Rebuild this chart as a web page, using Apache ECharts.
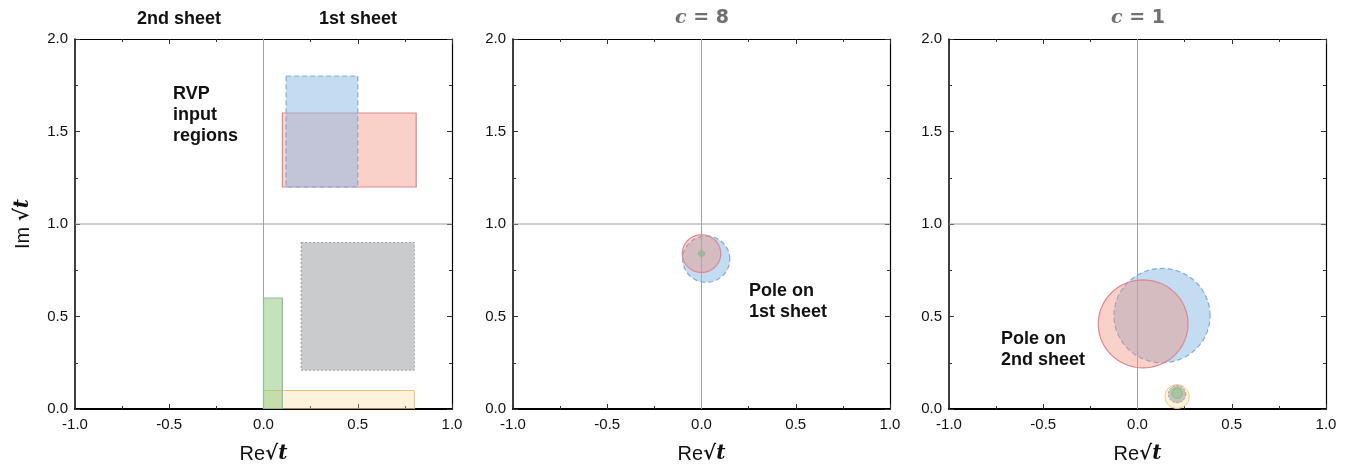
<!DOCTYPE html>
<html>
<head>
<meta charset="utf-8">
<script src="https://cdn.jsdelivr.net/npm/echarts@6/dist/echarts.min.js"></script>
<style>
  html, body { margin: 0; padding: 0; background: #fff; }
  #root { width: 1360px; height: 468px; }
</style>
</head>
<body>
<div id="root"></div>
<script>
// axis ticks
const xTicks = [-1.0, -0.5, 0.0, 0.5, 1.0];
const yTicks = [0.0, 0.5, 1.0, 1.5, 2.0];

// reference lines (Re = 0, Im = 1)
const vLine = [[0, 0], [0, 2]];
const hLine = [[-1, 1], [1, 1]];

// panel 1: input regions [x0, x1, y0, y1]
const orangeRegion = [0.0, 0.8, 0.0, 0.1];
const greenRegion = [0.0, 0.1, 0.0, 0.6];
const grayRegion = [0.2, 0.8, 0.21, 0.9];
const redRegion = [0.1, 0.81, 1.2, 1.6];
const blueRegion = [0.12, 0.5, 1.2, 1.8];

// panel 2 (c = 8): pole regions [cx, cy, r]
const c8Blue = [0.025, 0.81, 0.125];
const c8Red = [0.0, 0.84, 0.102];
const c8Gray = [0.0, 0.84, 0.016];
const c8Green = [0.0, 0.84, 0.012];

// panel 3 (c = 1)
const c1Blue = [0.13, 0.505, 0.255];
const c1Red = [0.03, 0.46, 0.238];
const c1Orange = [0.21, 0.067, 0.064];
const c1Gray = [0.21, 0.08, 0.046];
const c1Green = [0.21, 0.085, 0.028];

const styles = {
  orange: { fill: 'rgba(250,215,140,0.32)', stroke: '#f4c07a', lineWidth: 1 },
  green: { fill: 'rgba(140,200,120,0.5)', stroke: '#8dbda6', lineWidth: 1.2 },
  gray: { fill: 'rgba(150,152,156,0.5)', stroke: '#9a9a9a', lineWidth: 1, lineDash: [2, 2] },
  red: { fill: 'rgba(240,140,120,0.4)', stroke: '#de8791', lineWidth: 1.2 },
  blue: { fill: 'rgba(138,185,230,0.5)', stroke: '#7eadd9', lineWidth: 1.2, lineDash: [5, 3] }
};

let root = document.getElementById('root');
let myChart = echarts.init(root);

const lefts = [75, 513, 949];
const grids = lefts.map(l => ({ left: l, top: 39, width: 377, height: 370, outerBoundsMode: 'none', containLabel: false }));

const labelFont = { fontFamily: 'Liberation Sans', fontSize: 15, color: '#111' };
const nameRich = {
  re: { fontFamily: 'Liberation Sans', fontSize: 20, color: '#111' },
  sq: { fontFamily: 'DejaVu Serif', fontWeight: 'bold', fontSize: 20, color: '#111' },
  t: { fontFamily: 'DejaVu Serif', fontWeight: 'bold', fontStyle: 'italic', fontSize: 20, color: '#111' }
};

let xAxes = [];
let yAxes = [];
grids.forEach((g, i) => {
  const tickCommon = { show: true, inside: true, length: 5, lineStyle: { color: '#333', width: 1 } };
  const minorCommon = { show: true, splitNumber: 2, length: 3, lineStyle: { color: '#333', width: 1 } };
  xAxes.push({
    type: 'value', gridIndex: i, position: 'bottom', min: xTicks[0], max: xTicks[xTicks.length - 1], interval: 0.5,
    axisLine: { onZero: false, lineStyle: { color: '#000', width: 2 } },
    axisTick: tickCommon, minorTick: minorCommon, splitLine: { show: false },
    axisLabel: Object.assign({ margin: 8, formatter: v => v.toFixed(1) }, labelFont),
    name: '{re|Re}{sq|√}{t|t}', nameLocation: 'middle', nameGap: 35,
    nameTextStyle: { rich: nameRich }
  });
  xAxes.push({
    type: 'value', gridIndex: i, position: 'top', min: -1, max: 1, interval: 0.5,
    axisLine: { onZero: false, lineStyle: { color: '#000', width: 1.2 } },
    axisTick: tickCommon, minorTick: minorCommon, splitLine: { show: false }, axisLabel: { show: false }
  });
  yAxes.push({
    type: 'value', gridIndex: i, position: 'left', min: yTicks[0], max: yTicks[yTicks.length - 1], interval: 0.5,
    axisLine: { onZero: false, lineStyle: { color: '#000', width: 1.5 } },
    axisTick: tickCommon, minorTick: minorCommon, splitLine: { show: false },
    axisLabel: Object.assign({ margin: 7, formatter: v => v.toFixed(1) }, labelFont),
    name: i === 0 ? '{re|Im }{sq|√}{t|t}' : '', nameLocation: 'middle', nameGap: 42,
    nameTextStyle: { rich: nameRich }
  });
  yAxes.push({
    type: 'value', gridIndex: i, position: 'right', min: 0, max: 2, interval: 0.5,
    axisLine: { onZero: false, lineStyle: { color: '#000', width: 1.2 } },
    axisTick: tickCommon, minorTick: minorCommon, splitLine: { show: false }, axisLabel: { show: false }
  });
});

function rectSeries(gi, region, st) {
  return {
    type: 'custom', xAxisIndex: gi * 2, yAxisIndex: gi * 2, clip: true, silent: true, z: 3,
    data: [region], encode: { x: [0, 1], y: [2, 3] },
    renderItem: (params, api) => {
      const p0 = api.coord([api.value(0), api.value(3)]);
      const p1 = api.coord([api.value(1), api.value(2)]);
      return { type: 'rect', shape: { x: p0[0], y: p0[1], width: p1[0] - p0[0], height: p1[1] - p0[1] }, style: st };
    }
  };
}

function circleSeries(gi, circ, st) {
  return {
    type: 'custom', xAxisIndex: gi * 2, yAxisIndex: gi * 2, clip: true, silent: true, z: 3,
    data: [circ], encode: { x: 0, y: 1 },
    renderItem: (params, api) => {
      const cx = api.value(0), cy = api.value(1), r = api.value(2);
      let pts = [];
      for (let k = 0; k < 72; k++) {
        const a = k / 72 * Math.PI * 2;
        pts.push(api.coord([cx + r * Math.cos(a), cy + r * Math.sin(a)]));
      }
      return { type: 'polygon', shape: { points: pts }, style: st };
    }
  };
}

let series = [];
[0, 1, 2].forEach(gi => {
  [vLine, hLine].forEach(ln => {
    series.push({
      type: 'line', xAxisIndex: gi * 2, yAxisIndex: gi * 2, data: ln, symbol: 'none', silent: true, z: 1,
      lineStyle: { color: '#a0a0a0', width: 1 }
    });
  });
});

series.push(rectSeries(0, orangeRegion, styles.orange));
series.push(rectSeries(0, greenRegion, styles.green));
series.push(rectSeries(0, grayRegion, styles.gray));
series.push(rectSeries(0, redRegion, styles.red));
series.push(rectSeries(0, blueRegion, styles.blue));

series.push(circleSeries(1, c8Blue, styles.blue));
series.push(circleSeries(1, c8Red, styles.red));
series.push(circleSeries(1, c8Gray, styles.gray));
series.push(circleSeries(1, c8Green, styles.green));

series.push(circleSeries(2, c1Blue, styles.blue));
series.push(circleSeries(2, c1Red, styles.red));
series.push(circleSeries(2, c1Orange, styles.orange));
series.push(circleSeries(2, c1Gray, styles.gray));
series.push(circleSeries(2, c1Green, styles.green));

const boldText = { fontFamily: 'Liberation Sans', fontWeight: 'bold', fontSize: 18, fill: '#111' };
function label(x, y, text, align) {
  return { type: 'text', x: x, y: y, silent: true,
    style: Object.assign({ text: text, align: align || 'left', verticalAlign: 'middle', lineHeight: 21 }, boldText) };
}
function cTitle(x, text) {
  return { type: 'text', x: x, y: 18, silent: true,
    style: { text: '{c|c} = ' + text, align: 'center', verticalAlign: 'middle', fill: '#707070',
      fontFamily: 'DejaVu Sans', fontWeight: 'bold', fontSize: 19,
      rich: { c: { fontFamily: 'DejaVu Serif', fontStyle: 'italic', fontWeight: 'bold', fontSize: 19, fill: '#707070' } } } };
}

let option = {
  animation: false,
  backgroundColor: '#fff',
  grid: grids,
  xAxis: xAxes,
  yAxis: yAxes,
  series: series,
  graphic: [
    label(179, 19, '2nd sheet', 'center'),
    label(358, 19, '1st sheet', 'center'),
    label(173, 115, 'RVP\ninput\nregions'),
    label(749, 302, 'Pole on\n1st sheet'),
    label(1001, 350, 'Pole on\n2nd sheet'),
    cTitle(702, '8'),
    cTitle(1138, '1')
  ]
};
myChart.setOption(option);
</script>
</body>
</html>
